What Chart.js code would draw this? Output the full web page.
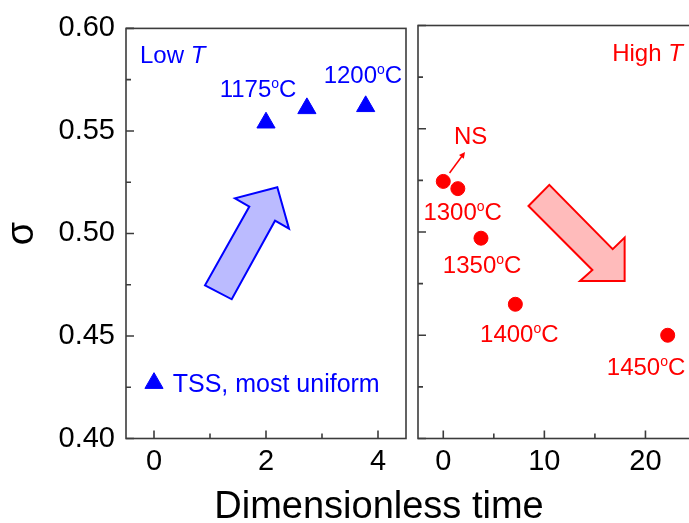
<!DOCTYPE html>
<html>
<head>
<meta charset="utf-8">
<script src="https://cdn.jsdelivr.net/npm/chart.js@4.4.0/dist/chart.umd.min.js"></script>
<style>
  html, body { margin: 0; padding: 0; background: #fff; overflow: hidden; }
  #wrap { position: relative; width: 689px; height: 523px; overflow: hidden; }
  #left { position: absolute; left: 0; top: 0; }
  #right { position: absolute; left: 410px; top: 0; }
</style>
</head>
<body>
<div id="wrap">
  <canvas id="left" width="689" height="523"></canvas>
  <canvas id="right" width="300" height="523"></canvas>
</div>
<script>
// low T runs (triangles)
const lowTime = [2.0, 2.73, 3.78]
const lowSigma = [0.554, 0.561, 0.562]
// high T runs (circles), first one is NS
const highTime = [0, 1.44, 3.73, 7.13, 22.2]
const highSigma = [0.5245, 0.521, 0.497, 0.465, 0.450]
// key marker for "TSS, most uniform"
const keyTime = [0]
const keySigma = [0.427]

const yTicks = [0.40, 0.45, 0.50, 0.55, 0.60]
const leftXTicks = [0, 2, 4]
const rightXTicks = [0, 10, 20]

const FONT = '"Liberation Sans", Arial, sans-serif'
const BLUE = '#0000ff'
const RED = '#ff0000'

const deg = t => [{ t: t }, { t: 'o', sup: true }, { t: 'C' }]

// text notes, placed in data units
const leftNotes = [
  { x: -0.25, y: 0.5872, align: 'left', parts: [{ t: 'Low ' }, { t: 'T', italic: true }] },
  { x: 1.857, y: 0.5707, align: 'center', parts: deg('1175') },
  { x: 3.73, y: 0.5775, align: 'center', parts: deg('1200') },
  { x: 0.334, y: 0.427, align: 'left', size: 25, parts: [{ t: 'TSS, most uniform' }] },
]
const rightNotes = [
  { x: 23.7, y: 0.5872, align: 'right', parts: [{ t: 'High ' }, { t: 'T', italic: true }] },
  { x: 2.7, y: 0.5467, align: 'center', parts: [{ t: 'NS' }] },
  { x: 1.92, y: 0.5098, align: 'center', parts: deg('1300') },
  { x: 3.84, y: 0.4845, align: 'center', parts: deg('1350') },
  { x: 7.52, y: 0.4509, align: 'center', parts: deg('1400') },
  { x: 20.06, y: 0.435, align: 'center', parts: deg('1450') },
]

// big arrows, outline in data units
const blueArrow = [[0.911, 0.4747], [1.388, 0.4679], [2.161, 0.5062], [2.411, 0.5023],
  [2.202, 0.5225], [1.446, 0.5171], [1.702, 0.5131]]
const redArrow = [[8.43, 0.5126], [10.49, 0.5228], [16.76, 0.4917], [17.94, 0.4973],
  [17.94, 0.4763], [13.53, 0.4763], [14.75, 0.4816]]
const nsPointer = [[0.62, 0.5286], [2.15, 0.5387]]

function drawRich(ctx, x, y, parts, align, color, size) {
  ctx.save()
  ctx.fillStyle = color
  ctx.textBaseline = 'alphabetic'
  ctx.textAlign = 'left'
  const fontOf = p => (p.italic ? 'italic ' : '') + (p.sup ? Math.round(size * 0.6) : size) + 'px ' + FONT
  let w = 0
  parts.forEach(p => { ctx.font = fontOf(p); w += ctx.measureText(p.t).width })
  let cx = align === 'left' ? x : align === 'right' ? x - w : x - w / 2
  const base = y + size * 0.36
  parts.forEach(p => {
    ctx.font = fontOf(p)
    ctx.fillText(p.t, cx, p.sup ? base - size * 0.38 : base)
    cx += ctx.measureText(p.t).width
  })
  ctx.restore()
}

function drawShape(chart, pts, fill, stroke) {
  const { ctx, scales: { x, y } } = chart
  ctx.save()
  ctx.beginPath()
  pts.forEach(([a, b], i) => {
    const px = x.getPixelForValue(a), py = y.getPixelForValue(b)
    i ? ctx.lineTo(px, py) : ctx.moveTo(px, py)
  })
  ctx.closePath()
  ctx.fillStyle = fill
  ctx.fill()
  ctx.lineWidth = 2
  ctx.strokeStyle = stroke
  ctx.lineJoin = 'miter'
  ctx.stroke()
  ctx.restore()
}

function minorOf(vals, min, max) {
  const d = vals[1] - vals[0]
  const out = []
  vals.forEach(v => [v - d / 2, v + d / 2].forEach(m => {
    if (m > min && m < max && !out.some(o => Math.abs(o - m) < 1e-9)) out.push(m)
  }))
  return out
}

// box with inward ticks
const frame = {
  id: 'frame',
  beforeDatasetsDraw(chart) {
    const { ctx, chartArea: a, scales: { x, y } } = chart
    ctx.save()
    ctx.strokeStyle = '#3c3c3c'
    ctx.lineWidth = 1.6
    ctx.strokeRect(a.left, a.top, a.width, a.height)
    const xs = chart.canvas.id === 'left' ? leftXTicks : rightXTicks
    ctx.beginPath()
    xs.forEach(v => { const p = x.getPixelForValue(v); ctx.moveTo(p, a.bottom); ctx.lineTo(p, a.bottom - 8) })
    minorOf(xs, x.min, x.max).forEach(v => { const p = x.getPixelForValue(v); ctx.moveTo(p, a.bottom); ctx.lineTo(p, a.bottom - 5) })
    yTicks.forEach(v => { const p = y.getPixelForValue(v); ctx.moveTo(a.left, p); ctx.lineTo(a.left + 8, p) })
    minorOf(yTicks, y.min, y.max).forEach(v => { const p = y.getPixelForValue(v); ctx.moveTo(a.left, p); ctx.lineTo(a.left + 5, p) })
    ctx.stroke()
    ctx.restore()
  }
}

const notes = {
  id: 'notes',
  beforeDatasetsDraw(chart) {
    if (chart.canvas.id === 'left') drawShape(chart, blueArrow, '#bbbbff', BLUE)
    else drawShape(chart, redArrow, '#ffbbbb', RED)
  },
  afterDatasetsDraw(chart) {
    const { ctx, scales: { x, y } } = chart
    const isLeft = chart.canvas.id === 'left'
    const list = isLeft ? leftNotes : rightNotes
    list.forEach(n => drawRich(ctx, x.getPixelForValue(n.x), y.getPixelForValue(n.y),
      n.parts, n.align, isLeft ? BLUE : RED, n.size || 24))
    if (isLeft) {
      ctx.save()
      ctx.font = '38px ' + FONT
      ctx.fillStyle = '#000'
      ctx.textAlign = 'center'
      ctx.textBaseline = 'alphabetic'
      ctx.fillText('Dimensionless time', 379, 518)
      ctx.restore()
    } else {
      // small pointer to the NS point
      const x0 = x.getPixelForValue(nsPointer[0][0]), y0 = y.getPixelForValue(nsPointer[0][1])
      const x1 = x.getPixelForValue(nsPointer[1][0]), y1 = y.getPixelForValue(nsPointer[1][1])
      const ang = Math.atan2(y1 - y0, x1 - x0)
      ctx.save()
      ctx.strokeStyle = RED
      ctx.fillStyle = RED
      ctx.lineWidth = 1.5
      ctx.beginPath()
      ctx.moveTo(x0, y0)
      ctx.lineTo(x1 - 4 * Math.cos(ang), y1 - 4 * Math.sin(ang))
      ctx.stroke()
      ctx.beginPath()
      ctx.moveTo(x1, y1)
      ctx.lineTo(x1 - 6 * Math.cos(ang) + 3 * Math.sin(ang), y1 - 6 * Math.sin(ang) - 3 * Math.cos(ang))
      ctx.lineTo(x1 - 6 * Math.cos(ang) - 3 * Math.sin(ang), y1 - 6 * Math.sin(ang) + 3 * Math.cos(ang))
      ctx.closePath()
      ctx.fill()
      ctx.restore()
    }
  }
}

const toPts = (xs, ys) => xs.map((v, i) => ({ x: v, y: ys[i] }))
const tickFont = { size: 29, family: FONT }

new Chart(document.getElementById('left'), {
  type: 'scatter',
  data: {
    datasets: [
      { label: 'Low T', data: toPts(lowTime, lowSigma), pointStyle: 'triangle', pointRadius: 10.5,
        backgroundColor: BLUE, borderColor: BLUE, borderWidth: 1 },
      { label: 'key', data: toPts(keyTime, keySigma), pointStyle: 'triangle', pointRadius: 10.5,
        backgroundColor: BLUE, borderColor: BLUE, borderWidth: 1 },
    ],
  },
  options: {
    responsive: false,
    animation: false,
    events: [],
    layout: { padding: { left: 0, right: 283, top: 25.5, bottom: 0 } },
    plugins: { legend: { display: false }, tooltip: { enabled: false } },
    scales: {
      x: {
        type: 'linear', min: -0.5, max: 4.5,
        afterBuildTicks: s => { s.ticks = leftXTicks.map(v => ({ value: v })) },
        afterFit: s => { s.height = 84.5 },
        grid: { display: false, drawTicks: false },
        border: { display: false },
        ticks: { font: tickFont, color: '#000', padding: 6 },
      },
      y: {
        min: 0.4, max: 0.6,
        afterBuildTicks: s => { s.ticks = yTicks.map(v => ({ value: v })) },
        afterFit: s => { s.width = 126 },
        grid: { display: false, drawTicks: false },
        border: { display: false },
        ticks: { font: tickFont, color: '#000', padding: 11, callback: v => v.toFixed(2) },
        title: { display: true, text: 'σ', color: '#000', font: { size: 38, family: FONT }, padding: 0 },
      },
    },
  },
  plugins: [frame, notes],
})

new Chart(document.getElementById('right'), {
  type: 'scatter',
  data: {
    datasets: [
      { label: 'High T', data: toPts(highTime, highSigma), pointStyle: 'circle', pointRadius: 7,
        backgroundColor: RED, borderColor: RED, borderWidth: 1 },
    ],
  },
  options: {
    responsive: false,
    animation: false,
    events: [],
    layout: { padding: { left: 6, right: 14, top: 25.5, bottom: 0 } },
    plugins: { legend: { display: false }, tooltip: { enabled: false } },
    scales: {
      x: {
        type: 'linear', min: -2.5, max: 25,
        afterBuildTicks: s => { s.ticks = rightXTicks.map(v => ({ value: v })) },
        afterFit: s => { s.height = 84.5 },
        grid: { display: false, drawTicks: false },
        border: { display: false },
        ticks: { font: tickFont, color: '#000', padding: 6 },
      },
      y: { display: false, min: 0.4, max: 0.6 },
    },
  },
  plugins: [frame, notes],
})
</script>
</body>
</html>
